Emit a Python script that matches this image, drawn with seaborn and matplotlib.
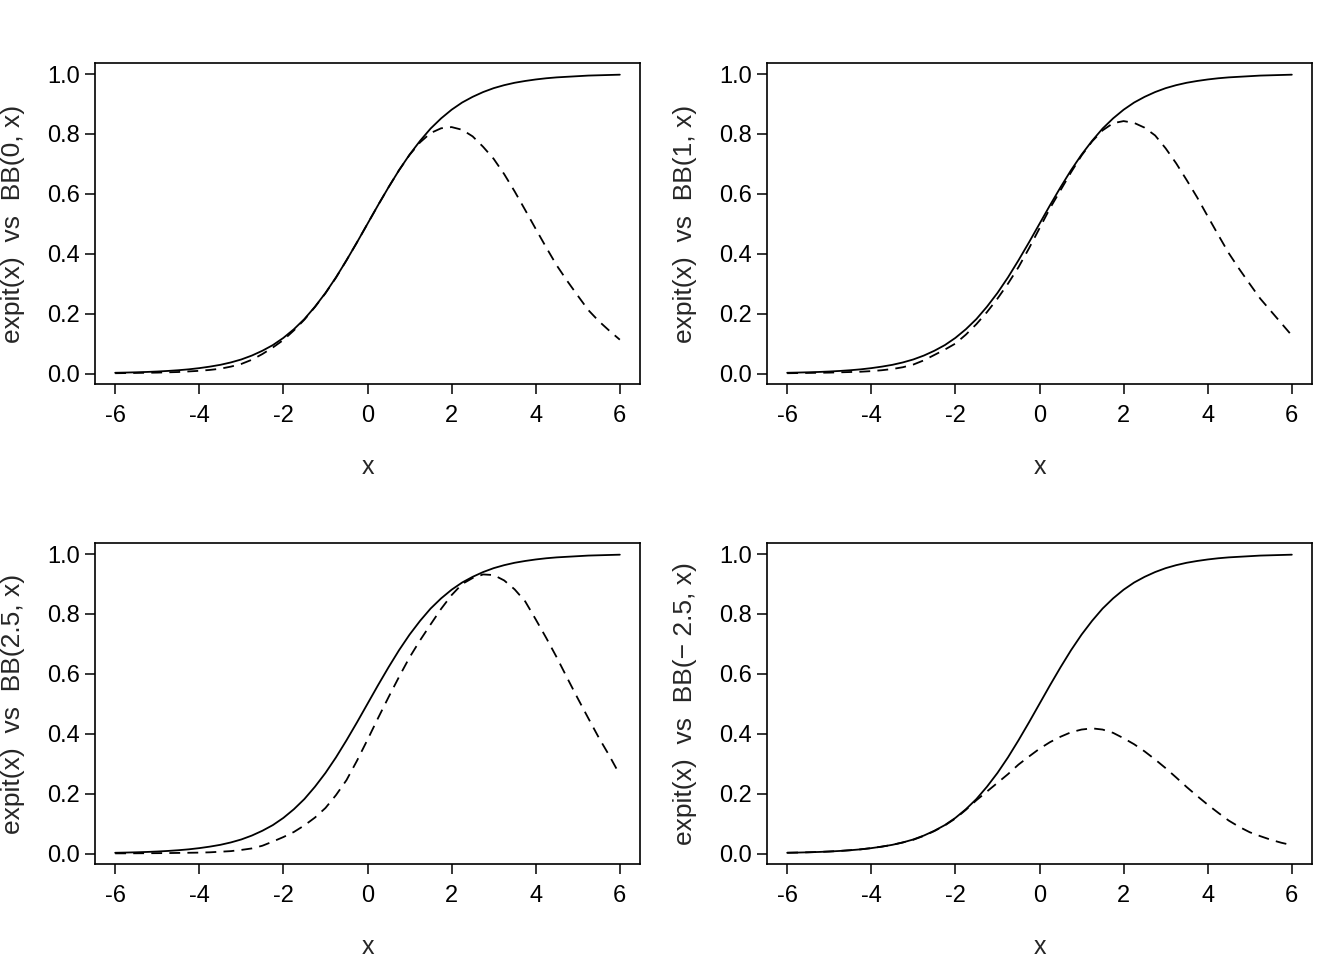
import numpy as np
import pandas as pd
import matplotlib
matplotlib.use("Agg")
import matplotlib.pyplot as plt
import seaborn as sns

# ---- data (x every 0.25) ----
x_vals = [-6, -5.75, -5.5, -5.25, -5, -4.75, -4.5, -4.25, -4, -3.75, -3.5, -3.25,
          -3, -2.75, -2.5, -2.25, -2, -1.75, -1.5, -1.25, -1, -0.75, -0.5, -0.25,
          0, 0.25, 0.5, 0.75, 1, 1.25, 1.5, 1.75, 2, 2.25, 2.5, 2.75,
          3, 3.25, 3.5, 3.75, 4, 4.25, 4.5, 4.75, 5, 5.25, 5.5, 5.75, 6]

expit_vals = [0.0025, 0.0032, 0.0041, 0.0052, 0.0067, 0.0086, 0.011, 0.014,
              0.018, 0.023, 0.029, 0.037, 0.047, 0.060, 0.076, 0.095,
              0.119, 0.148, 0.182, 0.223, 0.269, 0.321, 0.378, 0.438,
              0.500, 0.562, 0.622, 0.679, 0.731, 0.777, 0.818, 0.852,
              0.881, 0.905, 0.924, 0.940, 0.953, 0.963, 0.971, 0.977,
              0.982, 0.986, 0.989, 0.991, 0.993, 0.995, 0.996, 0.997, 0.998]

bb_0 = [0.001, 0.0015, 0.002, 0.0025, 0.003, 0.004, 0.005, 0.007,
        0.009, 0.012, 0.016, 0.023, 0.032, 0.046, 0.065, 0.087,
        0.112, 0.144, 0.180, 0.222, 0.268, 0.320, 0.378, 0.438,
        0.500, 0.562, 0.622, 0.679, 0.730, 0.772, 0.803, 0.819,
        0.823, 0.814, 0.792, 0.757, 0.717, 0.666, 0.608, 0.546,
        0.483, 0.421, 0.361, 0.309, 0.260, 0.212, 0.175, 0.143, 0.113]

bb_1 = [0.001, 0.0015, 0.002, 0.0025, 0.003, 0.004, 0.005, 0.006,
        0.008, 0.011, 0.015, 0.021, 0.030, 0.044, 0.062, 0.080,
        0.100, 0.130, 0.165, 0.205, 0.250, 0.300, 0.355, 0.418,
        0.485, 0.552, 0.612, 0.672, 0.728, 0.775, 0.812, 0.836,
        0.843, 0.837, 0.821, 0.795, 0.752, 0.702, 0.646, 0.588,
        0.525, 0.463, 0.402, 0.349, 0.299, 0.250, 0.209, 0.168, 0.127]

bb_2_5 = [0.0005, 0.0006, 0.0008, 0.001, 0.0012, 0.0015, 0.002, 0.0025,
          0.003, 0.004, 0.006, 0.008, 0.012, 0.017, 0.026, 0.040,
          0.055, 0.072, 0.094, 0.120, 0.152, 0.195, 0.245, 0.310,
          0.380, 0.452, 0.522, 0.590, 0.655, 0.712, 0.765, 0.817,
          0.863, 0.900, 0.920, 0.932, 0.930, 0.912, 0.882, 0.842,
          0.782, 0.720, 0.655, 0.586, 0.518, 0.452, 0.387, 0.327, 0.263]

bb_m2_5 = [0.0025, 0.0032, 0.0041, 0.0052, 0.0067, 0.0086, 0.011, 0.014,
           0.018, 0.023, 0.029, 0.037, 0.046, 0.059, 0.075, 0.094,
           0.117, 0.146, 0.178, 0.207, 0.236, 0.265, 0.297, 0.324,
           0.350, 0.372, 0.390, 0.405, 0.414, 0.418, 0.414, 0.403,
           0.385, 0.365, 0.341, 0.314, 0.285, 0.254, 0.222, 0.192,
           0.163, 0.136, 0.110, 0.089, 0.071, 0.058, 0.046, 0.036, 0.028]

panel_labels = ["expit(x)  vs  BB(0, x)", "expit(x)  vs  BB(1, x)",
                "expit(x)  vs  BB(2.5, x)", "expit(x)  vs  BB(\u2212 2.5, x)"]
panel_bb = [bb_0, bb_1, bb_2_5, bb_m2_5]
x_ticks = [-6, -4, -2, 0, 2, 4, 6]
y_ticks = [0.0, 0.2, 0.4, 0.6, 0.8, 1.0]

# ---- style ----
sns.set_theme(style="ticks")
plt.rcParams["font.family"] = ["Liberation Sans", "DejaVu Sans"]
plt.rcParams["font.size"] = 17

fig = plt.figure(figsize=(13.44, 9.6), dpi=100)

W, H = 1344, 960
boxes = [(95, 63), (767, 63), (95, 543), (767, 543)]
aw, ah = 545, 321

for i, (left, top) in enumerate(boxes):
    ax = fig.add_axes([left / W, 1 - (top + ah) / H, aw / W, ah / H])
    df = pd.DataFrame({"x": x_vals, "expit": expit_vals, "bb": panel_bb[i]})
    sns.lineplot(data=df, x="x", y="expit", ax=ax, color="black", lw=1.3,
                 estimator=None, sort=False)
    sns.lineplot(data=df, x="x", y="bb", ax=ax, color="black", lw=1.3,
                 estimator=None, sort=False, linestyle=(0, (6, 4)))
    ax.set_xlim(-6.48, 6.48)
    ax.set_ylim(-0.035, 1.037)
    ax.set_xticks(x_ticks)
    ax.set_xticklabels([str(t) for t in x_ticks])
    ax.set_yticks(y_ticks)
    ax.set_yticklabels([f"{t:.1f}" for t in y_ticks])
    ax.tick_params(axis="both", direction="out", length=7, width=1.1,
                   labelsize=17, color="black", labelcolor="black", pad=4)
    ax.tick_params(axis="x", pad=8)
    for s in ax.spines.values():
        s.set_visible(True)
        s.set_linewidth(1.2)
        s.set_color("black")
    ax.set_xlabel("x", fontsize=18)
    ax.set_ylabel(panel_labels[i], fontsize=19)
    ax.xaxis.set_label_coords(0.5, -0.22)
    ax.yaxis.set_label_coords(-0.128, 0.5)
    ax.grid(False)

fig.savefig("out.png", dpi=100)
